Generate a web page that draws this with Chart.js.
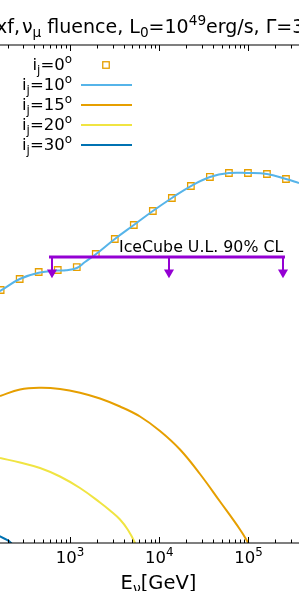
<!DOCTYPE html>
<html><head><meta charset="utf-8">
<script src="https://cdn.jsdelivr.net/npm/chart.js@4.4.0/dist/chart.umd.min.js"></script>
<style>html,body{margin:0;padding:0;background:#fff;overflow:hidden}canvas{display:block}</style>
</head><body>
<canvas id="c" width="299" height="591"></canvas>
<script>
// ---- data (energy in GeV, fluence values) ----
const energies0 = [167, 273, 446, 729, 1191, 1945, 3177, 5189, 8479, 13850, 22620, 36950, 60360, 98580, 161000, 263000];
const fluence0  = [1.117e-3, 1.517e-3, 1.841e-3, 1.945e-3, 2.113e-3, 3.034e-3, 4.60e-3, 6.78e-3, 1.0e-2, 1.435e-2, 2.0e-2, 2.57e-2, 2.87e-2, 2.87e-2, 2.79e-2, 2.43e-2];
const energies10 = [127, 167, 273, 446, 729, 902, 1191, 1472, 1945, 3177, 5189, 8479, 13850, 22620, 36950, 60360, 98580, 161000, 263000, 368100];
const fluence10  = [9.46e-4, 1.10e-3, 1.517e-3, 1.806e-3, 1.92e-3, 1.93e-3, 2.056e-3, 2.43e-3, 3.009e-3, 4.60e-3, 6.78e-3, 1.0e-2, 1.435e-2, 2.0e-2, 2.57e-2, 2.87e-2, 2.87e-2, 2.79e-2, 2.43e-2, 2.17e-2];
const energies15 = [164.3, 275.4, 461.3, 772.7, 1294, 2168, 3633, 6086, 10195, 17080, 28610, 47930, 80310, 99500, 118200];
const fluence15  = [5.90e-5, 7.07e-5, 7.41e-5, 7.17e-5, 6.47e-5, 5.51e-5, 4.412e-5, 3.343e-5, 2.236e-5, 1.338e-5, 6.78e-6, 3.162e-6, 1.455e-6, 1.0e-6, 7.17e-7];
const energies20 = [164.3, 275.4, 461.3, 772.7, 1294, 2168, 2807, 3633, 4466, 5350, 6086];
const fluence20  = [1.057e-5, 9.33e-6, 8.01e-6, 6.33e-6, 4.60e-6, 3.08e-6, 2.464e-6, 1.919e-6, 1.434e-6, 1.0e-6, 6.97e-7];
const energies30 = [127, 164.3, 218.2, 248.3];
const fluence30  = [1.357e-6, 1.198e-6, 1.0e-6, 7.17e-7];
const ulEnergies = [581.8, 256400];
const ulValue = 2.79e-3;
const arrowEnergies = [628.4, 12860, 243600];
const arrowTip = 1.82e-3;
const ulLabelEnergy = 3540;
const xTickDecades = [3, 4, 5];
const legendLabels = ['0', '10', '15', '20', '30'];
const xRange = [164.3, 368100];
const yRange = [1e-6, 1];

const purple = '#9400D3';
const cols = ['#E69F00', '#56B4E9', '#E69F00', '#F0E442', '#0072B2'];
const FONT = '"DejaVu Sans", sans-serif';

function pts(xs, ys) { return xs.map((x, i) => ({x: x, y: ys[i]})); }

function segFont(s, size) {
  const sz = (s.m === 'sub' || s.m === 'sup') ? size * 0.72 : size;
  return sz + 'px ' + FONT;
}
function richWidth(ctx, segs, size) {
  let w = 0;
  for (const s of segs) { ctx.font = segFont(s, size); w += ctx.measureText(s.t).width; }
  return w;
}
function drawRich(ctx, segs, x, y, size, align) {
  const w = richWidth(ctx, segs, size);
  let cx = align === 'center' ? x - w / 2 : (align === 'right' ? x - w : x);
  ctx.textAlign = 'left';
  ctx.textBaseline = 'alphabetic';
  for (const s of segs) {
    if (s.x !== undefined) cx = s.x;
    ctx.font = segFont(s, size);
    let dy = 0;
    if (s.m === 'sub') dy = size * 0.22;
    if (s.m === 'sup') dy = -size * 0.42;
    ctx.fillText(s.t, cx, y + dy);
    cx += ctx.measureText(s.t).width;
  }
}

const decor = {
  id: 'decor',
  afterDraw(chart) {
    const ctx = chart.ctx;
    const xs = chart.scales.x, ys = chart.scales.y;
    const a = chart.chartArea;
    ctx.save();
    ctx.fillStyle = '#000';
    ctx.strokeStyle = '#000';
    // spines
    ctx.lineWidth = 1.2;
    ctx.beginPath();
    ctx.moveTo(a.left, a.top); ctx.lineTo(a.right, a.top);
    ctx.moveTo(a.left, a.bottom); ctx.lineTo(a.right, a.bottom);
    ctx.stroke();
    // ticks (inward, top & bottom)
    ctx.lineWidth = 1;
    ctx.beginPath();
    for (let n = 2; n <= 5; n++) {
      for (let m = 1; m <= 9; m++) {
        const px = xs.getPixelForValue(m * Math.pow(10, n));
        if (px < a.left - 1 || px > a.right + 1) continue;
        const len = m === 1 ? 6 : 3.5;
        const xx = Math.round(px) + 0.5;
        ctx.moveTo(xx, a.bottom); ctx.lineTo(xx, a.bottom - len);
        ctx.moveTo(xx, a.top); ctx.lineTo(xx, a.top + len);
      }
    }
    ctx.stroke();
    // tick labels
    for (const d of xTickDecades) {
      const px = xs.getPixelForValue(Math.pow(10, d));
      drawRich(ctx, [{t: '10'}, {t: String(d), m: 'sup'}], px, 563, 16.5, 'center');
    }
    // x label
    drawRich(ctx, [{t: 'E'}, {t: 'ν', m: 'sub'}, {t: '[GeV]'}], 158.5, 589, 19.5, 'center');
    // title
    drawRich(ctx, [
      {t: 'xf,', x: -4}, {t: 'ν', x: 22}, {t: 'μ', m: 'sub'},
      {t: ' fluence, L'}, {t: '0', m: 'sub'},
      {t: '=10'}, {t: '49', m: 'sup'}, {t: 'erg/s, Γ=300'}
    ], 0, 33, 19, 'left');
    // IceCube label
    drawRich(ctx, [{t: 'IceCube U.L. 90% CL'}], xs.getPixelForValue(ulLabelEnergy), ys.getPixelForValue(ulValue) - 5, 15.8, 'left');
    // legend
    legendLabels.forEach((lab, i) => {
      const by = 70 + 20 * i;
      ctx.fillStyle = '#000';
      drawRich(ctx, [{t: 'i'}, {t: 'j', m: 'sub'}, {t: '=' + lab}, {t: 'o', m: 'sup'}], 72, by, 16.5, 'right');
      const my = by - 5;
      if (i === 0) {
        ctx.strokeStyle = cols[0]; ctx.lineWidth = 1.3;
        ctx.strokeRect(106 - 3.25, my - 3.25, 6.5, 6.5);
      } else {
        ctx.strokeStyle = cols[i]; ctx.lineWidth = 2;
        ctx.beginPath(); ctx.moveTo(81, my); ctx.lineTo(132, my); ctx.stroke();
      }
    });
    ctx.restore();
  }
};

const datasets = [
  {data: pts(ulEnergies, [ulValue, ulValue]), borderColor: purple, borderWidth: 3, pointRadius: 0, order: 0, clip: 0},
  ...arrowEnergies.map(e => ({
    data: [{x: e, y: ulValue}, {x: e, y: arrowTip}],
    borderColor: purple, backgroundColor: purple, borderWidth: 2,
    pointStyle: 'triangle', pointRotation: 180, pointRadius: [0, 5.8],
    pointBorderWidth: 0, pointBackgroundColor: purple, order: 0, clip: 0
  })),
  {data: pts(energies10, fluence10), borderColor: cols[1], borderWidth: 2, pointRadius: 0, tension: 0.4, order: 1, clip: 0},
  {data: pts(energies0, fluence0), showLine: false, pointStyle: 'rect', pointRadius: 4.6, pointBorderColor: cols[0], pointBorderWidth: 1.3, pointBackgroundColor: 'rgba(0,0,0,0)', order: 2},
  {data: pts(energies15, fluence15), borderColor: cols[2], borderWidth: 2, pointRadius: 0, tension: 0.4, order: 3, clip: 0},
  {data: pts(energies20, fluence20), borderColor: cols[3], borderWidth: 2, pointRadius: 0, tension: 0.4, order: 4, clip: 0},
  {data: pts(energies30, fluence30), borderColor: cols[4], borderWidth: 2, pointRadius: 0, tension: 0.4, order: 5, clip: 0}
];

new Chart(document.getElementById('c'), {
  type: 'line',
  data: {datasets: datasets},
  options: {
    responsive: false,
    animation: false,
    events: [],
    layout: {autoPadding: false, padding: {top: 45, bottom: 48, left: 0, right: 0}},
    plugins: {legend: {display: false}, tooltip: {enabled: false}, title: {display: false}},
    scales: {
      x: {type: 'logarithmic', min: xRange[0], max: xRange[1], display: false},
      y: {type: 'logarithmic', min: yRange[0], max: yRange[1], display: false}
    }
  },
  plugins: [decor]
});
</script>
</body></html>
